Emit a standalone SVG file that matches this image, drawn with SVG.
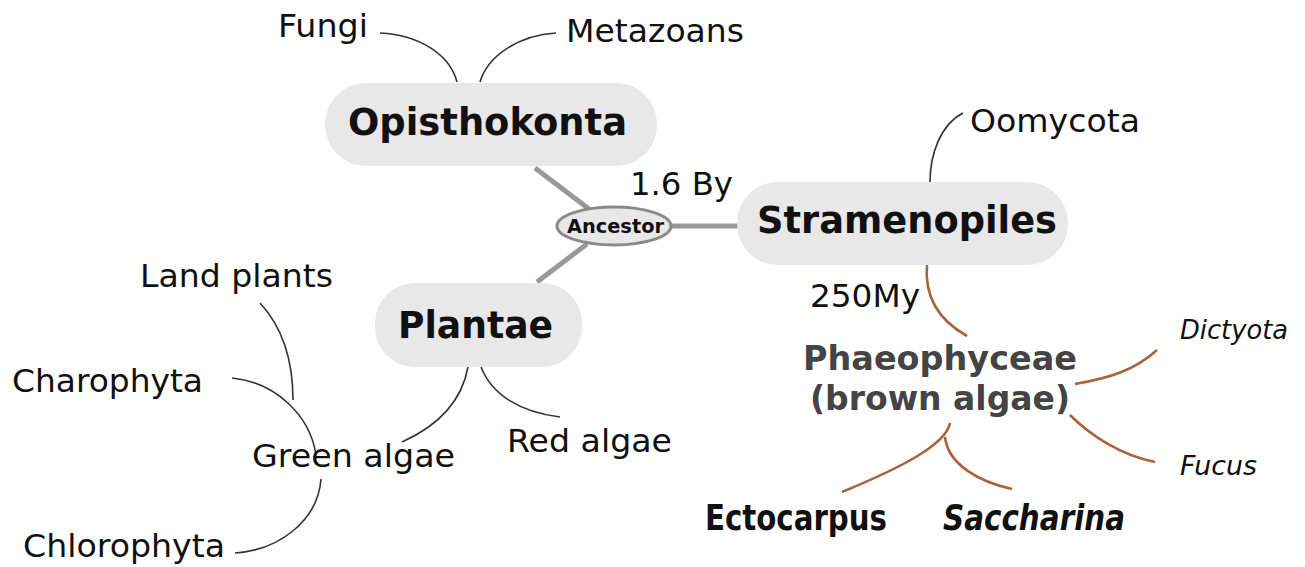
<svg xmlns="http://www.w3.org/2000/svg" width="1305" height="567" viewBox="0 0 1305 567">
<style>
text{font-family:"DejaVu Sans","Verdana",sans-serif;fill:#111}
.lbl{font-size:32px}
.big{font-size:37px;font-weight:bold}
.anc{font-size:19px;font-weight:bold}
.ph{font-size:33px;font-weight:bold;fill:#444}
.it{font-size:26px;font-style:italic}
.cond{font-family:"DejaVu Sans Condensed","DejaVu Sans",sans-serif;font-stretch:condensed;font-size:35px;font-weight:bold}
.node{fill:#e8e8e8}
.thin{fill:none;stroke:#333;stroke-width:1.6}
.gray{fill:none;stroke:#999;stroke-width:5}
.brown{fill:none;stroke:#a8643a;stroke-width:2.6}
</style>
<g id="connectors">
<path class="gray" d="M535,168 L589,209"/>
<path class="gray" d="M671,226 L738,226"/>
<path class="gray" d="M587,244 L537,282"/>
<path class="thin" d="M380,33 C420,35 450,55 457,82"/>
<path class="thin" d="M556,33 C520,35 488,55 480,82"/>
<path class="thin" d="M963,113 C940,125 930,155 930,182"/>
<path class="thin" d="M260,303 C285,330 293,365 293,400"/>
<path class="thin" d="M232,378 C275,382 310,415 316,455"/>
<path class="thin" d="M235,553 C280,550 318,520 321,479"/>
<path class="thin" d="M468,367 C462,400 440,425 402,442"/>
<path class="thin" d="M481,367 C492,395 520,412 560,417"/>
<path class="brown" d="M927,265 C924,300 942,322 967,336"/>
<path class="brown" d="M1075,384 C1110,378 1135,370 1157,350"/>
<path class="brown" d="M1070,415 C1090,435 1120,455 1155,462"/>
<path class="brown" d="M950,423 C946,445 900,468 842,492"/>
<path class="brown" d="M945,437 C948,465 980,482 1012,489"/>
</g>
<g id="fungi"><text class="lbl" x="278" y="37" textLength="90" lengthAdjust="spacingAndGlyphs">Fungi</text></g>
<g id="metazoans"><text class="lbl" x="566" y="42" textLength="178" lengthAdjust="spacingAndGlyphs">Metazoans</text></g>
<g id="opisthokonta">
<rect class="node" x="325" y="83" width="332" height="83" rx="41"/>
<text class="big" x="348" y="135" textLength="279" lengthAdjust="spacingAndGlyphs">Opisthokonta</text>
</g>
<g id="label-1-6-by"><text class="lbl" x="630" y="195" textLength="103" lengthAdjust="spacingAndGlyphs">1.6 By</text></g>
<g id="ancestor">
<ellipse cx="614" cy="226" rx="57" ry="19" fill="#e8e8e8" stroke="#8a8a8a" stroke-width="3"/>
<text class="anc" x="567" y="233" textLength="97" lengthAdjust="spacingAndGlyphs">Ancestor</text>
</g>
<g id="stramenopiles">
<rect class="node" x="737" y="182" width="331" height="83" rx="41"/>
<text class="big" x="757" y="233" textLength="300" lengthAdjust="spacingAndGlyphs">Stramenopiles</text>
</g>
<g id="oomycota"><text class="lbl" x="970" y="132" textLength="170" lengthAdjust="spacingAndGlyphs">Oomycota</text></g>
<g id="plantae">
<rect class="node" x="375" y="283" width="207" height="84" rx="40"/>
<text class="big" x="398" y="338" textLength="155" lengthAdjust="spacingAndGlyphs">Plantae</text>
</g>
<g id="land-plants"><text class="lbl" x="140" y="287" textLength="193" lengthAdjust="spacingAndGlyphs">Land plants</text></g>
<g id="charophyta"><text class="lbl" x="12" y="392" textLength="191" lengthAdjust="spacingAndGlyphs">Charophyta</text></g>
<g id="green-algae"><text class="lbl" x="252" y="467" textLength="203" lengthAdjust="spacingAndGlyphs">Green algae</text></g>
<g id="red-algae"><text class="lbl" x="507" y="452" textLength="165" lengthAdjust="spacingAndGlyphs">Red algae</text></g>
<g id="chlorophyta"><text class="lbl" x="23" y="557" textLength="202" lengthAdjust="spacingAndGlyphs">Chlorophyta</text></g>
<g id="label-250my"><text class="lbl" x="810" y="307" textLength="110" lengthAdjust="spacingAndGlyphs">250My</text></g>
<g id="phaeophyceae">
<text class="ph" x="803" y="370" textLength="274" lengthAdjust="spacingAndGlyphs">Phaeophyceae</text>
<text class="ph" x="810" y="410" textLength="260" lengthAdjust="spacingAndGlyphs">(brown algae)</text>
</g>
<g id="dictyota"><text class="it" x="1180" y="339" textLength="108" lengthAdjust="spacingAndGlyphs">Dictyota</text></g>
<g id="fucus"><text class="it" x="1180" y="475" textLength="77" lengthAdjust="spacingAndGlyphs">Fucus</text></g>
<g id="ectocarpus"><text class="cond" x="705" y="530" textLength="182" lengthAdjust="spacingAndGlyphs">Ectocarpus</text></g>
<g id="saccharina"><text class="cond" x="943" y="530" font-style="italic" textLength="182" lengthAdjust="spacingAndGlyphs">Saccharina</text></g>
</svg>
